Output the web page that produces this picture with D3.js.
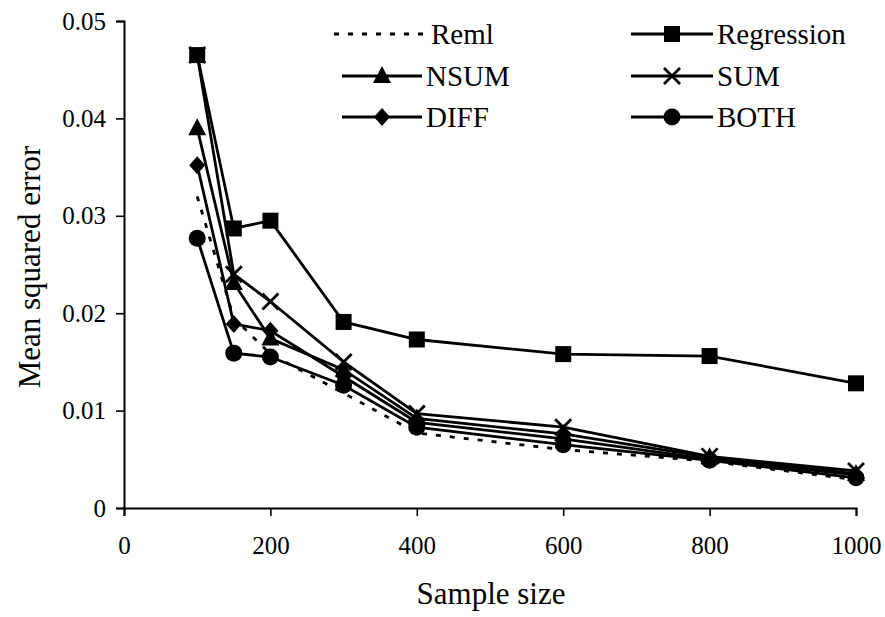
<!DOCTYPE html>
<html lang="en">
<head>
<meta charset="UTF-8">
<title>Mean squared error vs sample size</title>
<script src="https://d3js.org/d3.v7.min.js"></script>
<style>
    body { margin: 0; background: #fff; }
    svg text { font-family: 'Liberation Serif', 'Times New Roman', serif; fill: #000; }
</style>
</head>
<body>
<div id="chart"></div>
<script>
    // data
    const sampleSizes = [100, 150, 200, 300, 400, 600, 800, 1000];
    const reml       = [0.0320, 0.0195, 0.0158, 0.0118, 0.0077, 0.0060, 0.0048, 0.0029];
    const regression = [0.0465, 0.0287, 0.0295, 0.0191, 0.0173, 0.0158, 0.0156, 0.0128];
    const nsum       = [0.0390, 0.0231, 0.0174, 0.0142, 0.0092, 0.0076, 0.0052, 0.0035];
    const sum        = [0.0465, 0.0240, 0.0212, 0.0150, 0.0097, 0.0083, 0.0053, 0.0038];
    const diff       = [0.0352, 0.0189, 0.0182, 0.0135, 0.0088, 0.0071, 0.0050, 0.0034];
    const both       = [0.0277, 0.0159, 0.0155, 0.0126, 0.0083, 0.0065, 0.0049, 0.0031];
    const xTicks = [0, 200, 400, 600, 800, 1000];
    const yTicks = [0, 0.01, 0.02, 0.03, 0.04, 0.05];

    const series = [
        { name: "Reml", values: reml, marker: null, dashed: true },
        { name: "Regression", values: regression, marker: "square" },
        { name: "NSUM", values: nsum, marker: "triangle" },
        { name: "SUM", values: sum, marker: "cross" },
        { name: "DIFF", values: diff, marker: "diamond" },
        { name: "BOTH", values: both, marker: "circle" }
    ];

    const width = 885, height = 617;
    const svg = d3.select("#chart").append("svg")
        .attr("width", width).attr("height", height);

    const x = d3.scaleLinear().domain([0, 1000]).range([124, 856]);
    const y = d3.scaleLinear().domain([0, 0.05]).range([508, 21]);

    // axes
    const yAxis = d3.axisLeft(y).tickValues(yTicks).tickSize(8).tickPadding(10)
        .tickFormat(d => d === 0 ? "0" : d3.format(".2f")(d));
    const xAxis = d3.axisBottom(x).tickValues(xTicks).tickSize(8).tickPadding(20)
        .tickFormat(d3.format("d"));

    const gy = svg.append("g").attr("transform", `translate(${x(0)},0)`).call(yAxis);
    const gx = svg.append("g").attr("transform", `translate(0,${y(0)})`).call(xAxis);
    [gx, gy].forEach(g => {
        g.attr("font-family", null);
        g.select(".domain").attr("stroke", "#000").attr("stroke-width", 2);
        g.selectAll(".tick line").attr("stroke", "#000").attr("stroke-width", 1.6);
        g.selectAll(".tick text").style("font-size", "25px");
    });

    svg.append("text")
        .attr("x", 491).attr("y", 604)
        .attr("text-anchor", "middle")
        .style("font-size", "31px")
        .text("Sample size");
    svg.append("text")
        .attr("transform", "translate(40,267) rotate(-90)")
        .attr("text-anchor", "middle")
        .style("font-size", "31px")
        .text("Mean squared error");

    function drawMarker(g, type, cx, cy) {
        if (type === "square") {
            g.append("rect").attr("x", cx - 8).attr("y", cy - 8)
                .attr("width", 16).attr("height", 16).attr("fill", "#000");
        } else if (type === "triangle") {
            g.append("path").attr("d", `M${cx},${cy - 10}L${cx + 9},${cy + 7}L${cx - 9},${cy + 7}Z`)
                .attr("fill", "#000");
        } else if (type === "diamond") {
            g.append("path").attr("d", `M${cx},${cy - 9}L${cx + 8},${cy}L${cx},${cy + 9}L${cx - 8},${cy}Z`)
                .attr("fill", "#000");
        } else if (type === "circle") {
            g.append("circle").attr("cx", cx).attr("cy", cy).attr("r", 8.5).attr("fill", "#000");
        } else if (type === "cross") {
            g.append("path").attr("d", `M${cx - 8},${cy - 8}L${cx + 8},${cy + 8}M${cx - 8},${cy + 8}L${cx + 8},${cy - 8}`)
                .attr("stroke", "#000").attr("stroke-width", 2.8).attr("fill", "none");
        }
    }

    const line = d3.line().x(d => x(d[0])).y(d => y(d[1]));

    const plot = svg.append("g");
    series.forEach(s => {
        const pts = sampleSizes.map((v, i) => [v, s.values[i]]);
        plot.append("path").datum(pts)
            .attr("d", line)
            .attr("fill", "none")
            .attr("stroke", "#000")
            .attr("stroke-width", 2.8)
            .attr("stroke-dasharray", s.dashed ? "5,9" : null);
        if (s.marker) {
            const mg = plot.append("g");
            pts.forEach(p => drawMarker(mg, s.marker, x(p[0]), y(p[1])));
        }
    });

    // legend: two columns, three rows
    const legendRows = [34, 76, 117];
    series.forEach((s, i) => {
        const right = i % 2 === 1;
        const ly = legendRows[Math.floor(i / 2)];
        let x1, x2, tx;
        if (s.dashed) { x1 = 334; x2 = 427; tx = 431; }
        else if (right) { x1 = 631; x2 = 713; tx = 717; }
        else { x1 = 342; x2 = 422; tx = 426; }
        const g = svg.append("g");
        g.append("line").attr("x1", x1).attr("x2", x2)
            .attr("y1", ly).attr("y2", ly)
            .attr("stroke", "#000").attr("stroke-width", 2.8)
            .attr("stroke-dasharray", s.dashed ? "5,9" : null);
        if (s.marker) drawMarker(g, s.marker, (x1 + x2) / 2, ly);
        g.append("text").attr("x", tx).attr("y", ly + 10)
            .style("font-size", "29px")
            .text(s.name);
    });
</script>
</body>
</html>
